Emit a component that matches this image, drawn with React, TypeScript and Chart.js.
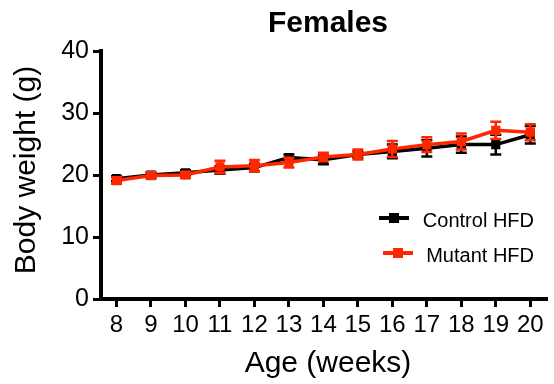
import React, { useEffect, useRef } from "react";
import { Chart, registerables } from "chart.js";

Chart.register(...registerables);

const weeks = [8, 9, 10, 11, 12, 13, 14, 15, 16, 17, 18, 19, 20];
const yTicks = [0, 10, 20, 30, 40];
const controlMean = [19.4, 20.0, 20.35, 20.8, 21.2, 22.8, 22.45, 23.3, 23.8, 24.3, 24.9, 24.9, 26.5];
const controlErr = [0.4, 0.4, 0.4, 0.6, 0.6, 0.5, 0.7, 0.5, 1.1, 1.3, 1.3, 1.6, 1.4];
const mutantMean = [19.1, 19.9, 20.0, 21.3, 21.5, 22.0, 22.9, 23.3, 24.2, 24.9, 25.4, 27.2, 26.9];
const mutantErr = [0.5, 0.5, 0.5, 1.0, 0.9, 0.8, 0.7, 0.8, 1.3, 1.2, 1.3, 1.4, 1.3];

const seriesNames = ["Control HFD", "Mutant HFD"];
const titleText = "Females";
const xTitle = "Age (weeks)";
const yTitle = "Body weight (g)";

const BLACK = "#000000";
const RED = "rgb(255,38,0)";
const FONT = "'Liberation Sans', Arial, Helvetica, sans-serif";

const errors = [controlErr, mutantErr];

const errorBarPlugin = {
  id: "errorBars",
  beforeDatasetDraw(chart: any, args: any) {
    const idx = args.index;
    const ds = chart.data.datasets[idx];
    const errs = errors[idx];
    const xs = chart.scales.x;
    const ys = chart.scales.y;
    const ctx = chart.ctx;
    ctx.save();
    ctx.strokeStyle = ds.borderColor;
    ctx.lineWidth = 2.5;
    ds.data.forEach((p: any, i: number) => {
      const px = xs.getPixelForValue(p.x);
      const top = ys.getPixelForValue(p.y + errs[i]);
      const bot = ys.getPixelForValue(p.y - errs[i]);
      ctx.beginPath();
      ctx.moveTo(px, top);
      ctx.lineTo(px, bot);
      ctx.moveTo(px - 5.5, top);
      ctx.lineTo(px + 5.5, top);
      ctx.moveTo(px - 5.5, bot);
      ctx.lineTo(px + 5.5, bot);
      ctx.stroke();
    });
    ctx.restore();
  },
};

const textPlugin = {
  id: "texts",
  afterDraw(chart: any) {
    const ctx = chart.ctx;
    ctx.save();
    ctx.fillStyle = "#000";
    ctx.font = `bold 30px ${FONT}`;
    ctx.textAlign = "center";
    ctx.textBaseline = "alphabetic";
    ctx.fillText(titleText, 328, 32);
    ctx.font = `30px ${FONT}`;
    ctx.fillText(xTitle, 328, 372);
    ctx.save();
    ctx.translate(35, 170);
    ctx.rotate(-Math.PI / 2);
    ctx.fillText(yTitle, 0, 0);
    ctx.restore();
    const rows = [
      { y: 218, x0: 379, x1: 409, ty: 227 },
      { y: 253, x0: 383, x1: 413, ty: 262 },
    ];
    chart.data.datasets.forEach((ds: any, i: number) => {
      const r = rows[i];
      ctx.strokeStyle = ds.borderColor;
      ctx.lineWidth = 4;
      ctx.beginPath();
      ctx.moveTo(r.x0, r.y);
      ctx.lineTo(r.x1, r.y);
      ctx.stroke();
      ctx.fillStyle = ds.borderColor;
      const cx = (r.x0 + r.x1) / 2;
      ctx.fillRect(cx - 5, r.y - 5, 10, 10);
      ctx.fillStyle = "#000";
      ctx.font = `20px ${FONT}`;
      ctx.textAlign = "right";
      ctx.fillText(seriesNames[i], 534, r.ty);
    });
    ctx.restore();
  },
};

export default function App() {
  const ref = useRef<HTMLCanvasElement>(null);
  useEffect(() => {
    if (!ref.current) return;
    const mk = (m: number[]) => m.map((v, i) => ({ x: weeks[i], y: v }));
    const chart = new Chart(ref.current, {
      type: "line",
      data: {
        datasets: [
          {
            label: seriesNames[0],
            data: mk(controlMean),
            borderColor: BLACK,
            backgroundColor: BLACK,
            borderWidth: 3.5,
            pointStyle: "rect",
            pointRadius: 6.5,
            pointBorderWidth: 0,
            order: 1,
          },
          {
            label: seriesNames[1],
            data: mk(mutantMean),
            borderColor: RED,
            backgroundColor: RED,
            borderWidth: 3.5,
            pointStyle: "rect",
            pointRadius: 6.5,
            pointBorderWidth: 0,
            order: 0,
          },
        ],
      },
      options: {
        responsive: false,
        animation: false,
        devicePixelRatio: 1,
        layout: { padding: { top: 51, left: 0, right: 0, bottom: 0 } },
        plugins: {
          legend: { display: false },
          tooltip: { enabled: false },
          title: { display: false },
        },
        scales: {
          x: {
            type: "linear",
            min: 7.55,
            max: 20.5,
            afterBuildTicks: (s: any) => {
              s.ticks = weeks.map((v) => ({ value: v }));
            },
            afterFit: (s: any) => {
              s.height = 85;
            },
            grid: {
              drawOnChartArea: false,
              drawTicks: true,
              tickLength: 8,
              tickWidth: 3,
              color: "#000",
            },
            border: { display: true, color: "#000", width: 4 },
            ticks: {
              color: "#000",
              padding: 4,
              maxRotation: 0,
              autoSkip: false,
              font: { family: FONT, size: 24 },
              callback: (v: any) => String(v),
            },
          },
          y: {
            type: "linear",
            min: 0,
            max: 40,
            afterBuildTicks: (s: any) => {
              s.ticks = yTicks.map((v) => ({ value: v }));
            },
            afterFit: (s: any) => {
              s.width = 101;
            },
            grid: {
              drawOnChartArea: false,
              drawTicks: true,
              tickLength: 8,
              tickWidth: 3,
              color: "#000",
            },
            border: { display: true, color: "#000", width: 4 },
            ticks: {
              color: "#000",
              padding: 4,
              font: { family: FONT, size: 25 },
              callback: (v: any) => String(v),
            },
          },
        },
      },
      plugins: [errorBarPlugin, textPlugin],
    });
    return () => chart.destroy();
  }, []);
  return (
    <div style={{ position: "fixed", left: 0, top: 0, width: 554, height: 384, background: "#fff" }}>
      <canvas ref={ref} width={554} height={384} />
    </div>
  );
}
